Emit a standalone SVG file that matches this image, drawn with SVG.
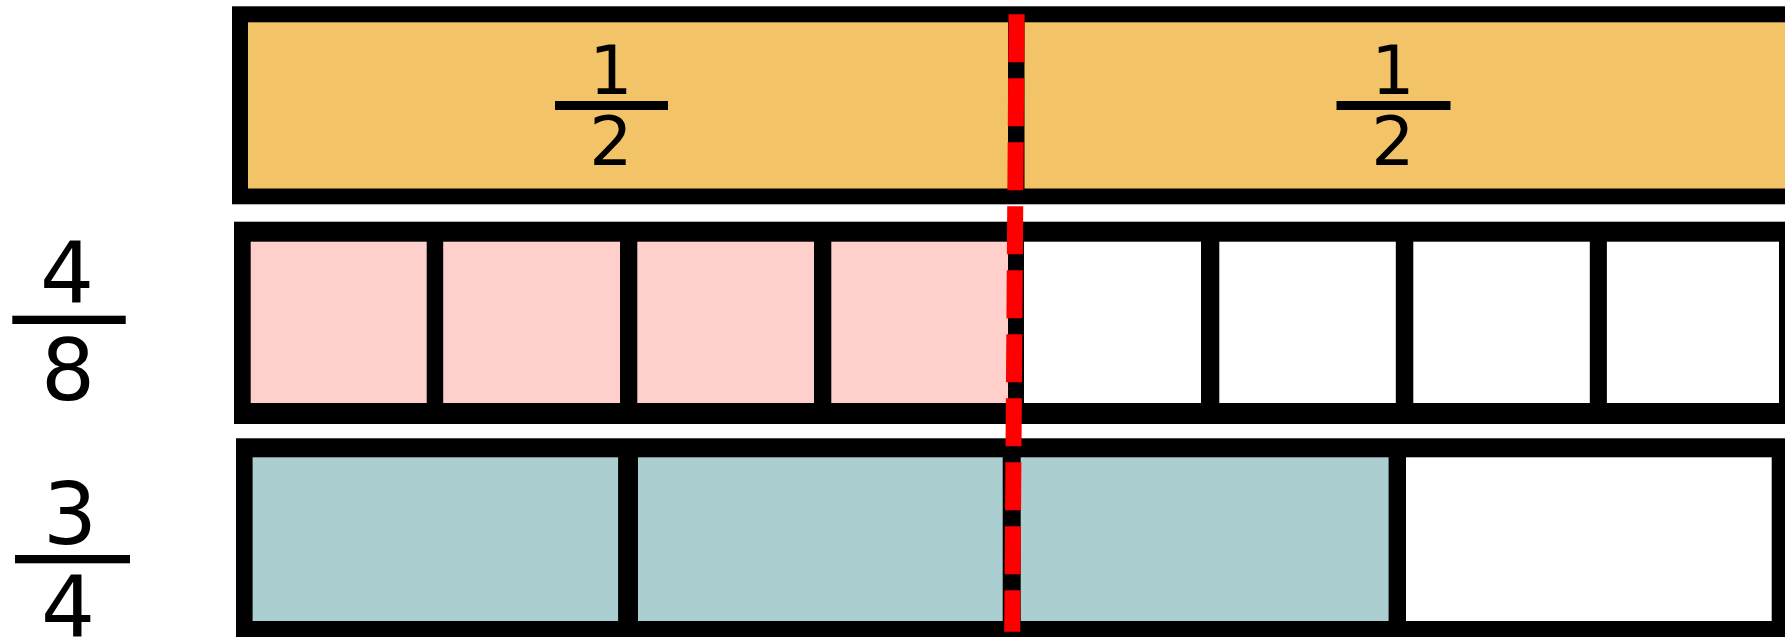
<svg xmlns="http://www.w3.org/2000/svg" width="1785" height="637" viewBox="0 0 1785 637">
<style>
.frame{fill:#000}
.yel{fill:#F2C467}
.pink{fill:#FECFCB}
.teal{fill:#ABCED1}
.white{fill:#FFFFFF}
.num{font-family:"DejaVu Sans",sans-serif;fill:#000;text-anchor:middle}
.small{font-size:68px}
.big{font-size:85px}
.fbar{fill:#000}
.cut{stroke:#FF0000;stroke-width:16;stroke-dasharray:48 16;fill:none;stroke-linecap:butt}
</style>
<rect x="0" y="0" width="1785" height="637" fill="#FFFFFF"/>
<g id="halves-bar">
<rect class="frame" x="232" y="6.3" width="1553" height="198"/>
<rect class="yel" x="248" y="22.3" width="760" height="166.2"/>
<rect class="yel" x="1024.5" y="22.3" width="760.5" height="166.2"/>
</g>
<g id="half-label-1">
<text class="num small" x="611" y="94">1</text>
<rect class="fbar" x="555" y="101" width="113" height="9"/>
<text class="num small" x="611" y="165">2</text>
</g>
<g id="half-label-2">
<text class="num small" x="1393" y="94">1</text>
<rect class="fbar" x="1336.5" y="101" width="114" height="9"/>
<text class="num small" x="1393" y="165">2</text>
</g>
<g id="eighths-bar">
<rect class="frame" x="234" y="221.7" width="1551" height="202.3"/>
<rect class="pink" x="250.7" y="241.7" width="176" height="161.3"/>
<rect class="pink" x="443.2" y="241.7" width="176.8" height="161.3"/>
<rect class="pink" x="637.3" y="241.7" width="176.7" height="161.3"/>
<rect class="pink" x="831.3" y="241.7" width="176.7" height="161.3"/>
<rect class="white" x="1024" y="241.7" width="177" height="161.3"/>
<rect class="white" x="1219.3" y="241.7" width="176.5" height="161.3"/>
<rect class="white" x="1413.3" y="241.7" width="176.5" height="161.3"/>
<rect class="white" x="1606.9" y="241.7" width="172.1" height="161.3"/>
</g>
<g id="label-4-8">
<text class="num big" x="67" y="303">4</text>
<rect class="fbar" x="12.3" y="315.7" width="113.4" height="8.3"/>
<text class="num big" x="68" y="400">8</text>
</g>
<g id="quarters-bar">
<rect class="frame" x="236" y="438.3" width="1549" height="198.7"/>
<rect class="teal" x="252.6" y="457.3" width="365.5" height="163.7"/>
<rect class="teal" x="638" y="457.3" width="364.7" height="163.7"/>
<rect class="teal" x="1020.7" y="457.3" width="367.9" height="163.7"/>
<rect class="white" x="1406" y="457.3" width="365.7" height="163.7"/>
</g>
<g id="label-3-4">
<text class="num big" x="70" y="544">3</text>
<rect class="fbar" x="15" y="555" width="115" height="8.3"/>
<text class="num big" x="68" y="637">4</text>
</g>
<g id="connectors">
<line class="cut" x1="1016.6" y1="14.3" x2="1012.2" y2="631.7"/>
</g>
</svg>
